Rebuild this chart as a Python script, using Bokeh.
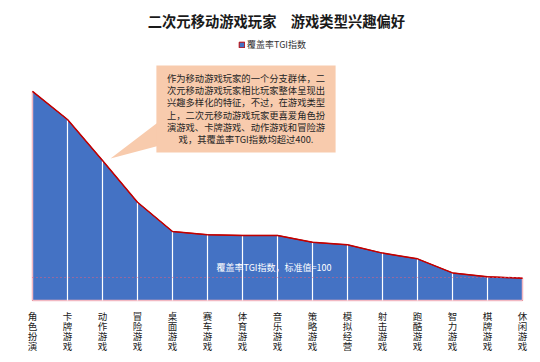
from bokeh.plotting import figure
from bokeh.models import (Range1d, FixedTicker, Label, BoxAnnotation, PolyAnnotation,
                          Legend, LegendItem, ColumnDataSource)
from bokeh.embed import file_html
from bokeh.resources import INLINE

# ---- data ----
categories = ["角色扮演", "卡牌游戏", "动作游戏", "冒险游戏", "桌面游戏", "赛车游戏", "体育游戏",
              "音乐游戏", "策略游戏", "模拟经营", "射击游戏", "跑酷游戏", "智力游戏", "棋牌游戏", "休闲游戏"]
tgi = [909, 787, 609, 427, 300, 286, 283, 283, 253, 242, 206, 181, 120, 103, 97]
baseline = 100
series_name = "覆盖率TGI指数"
title_text = "二次元移动游戏玩家\u3000游戏类型兴趣偏好"
note_text = ("作为移动游戏玩家的一个分支群体，二\n"
             "次元移动游戏玩家相比玩家整体呈现出\n"
             "兴趣多样化的特征，不过，在游戏类型\n"
             "上，二次元移动游戏玩家更喜爱角色扮\n"
             "演游戏、卡牌游戏、动作游戏和冒险游\n"
             "戏，其覆盖率TGI指数均超过400.")
baseline_text = "覆盖率TGI指数，标准值=100"

FONT = "Noto Sans CJK SC"
n = len(categories)
xs = list(range(n))

p = figure(width=540, height=362, output_backend="svg", toolbar_location=None,
           x_range=Range1d(-0.914, 14.514), y_range=Range1d(-269.6, 1304.3),
           min_border_left=0, min_border_right=0, min_border_top=0, min_border_bottom=0)
p.outline_line_color = None
p.xgrid.visible = False
p.ygrid.visible = False
p.yaxis.visible = False

ax = p.xaxis[0]
ax.fixed_location = 0
ax.ticker = FixedTicker(ticks=xs)
ax.major_label_overrides = {i: "\n".join(list(c)) for i, c in enumerate(categories)}
ax.axis_line_color = None
ax.major_tick_line_color = None
ax.minor_tick_line_color = None
ax.major_tick_out = 0
ax.major_tick_in = 0
ax.major_label_text_font = FONT
ax.major_label_text_font_size = "9.5px"
ax.major_label_text_line_height = 0.7
ax.major_label_text_color = "#1a1a1a"
ax.major_label_standoff = 9

# area
area_src = ColumnDataSource(dict(x=[0] + xs + [n - 1], y=[0] + tgi + [0]))
patch = p.patch("x", "y", source=area_src, fill_color="#4472C4", line_color="#C00000", line_width=1)

# pink sides and bottom
p.segment(x0=[0, n - 1, 0], y0=[0, 0, 0], x1=[0, n - 1, n - 1], y1=[tgi[0], tgi[-1], 0],
          line_color="#F2B8C2", line_width=1.5)
# white separators
p.segment(x0=xs[1:-1], y0=[0] * (n - 2), x1=xs[1:-1], y1=tgi[1:-1], line_color="white", line_width=1.2)
# top line
p.line(xs, tgi, line_color="#C00000", line_width=1.5)

# baseline (standard value 100)
p.segment(x0=[0], y0=[baseline], x1=[n - 1], y1=[baseline], line_color="#E8607A",
          line_dash="1 3", line_width=1.2)
p.add_layout(Label(x=6.9, y=143, text=baseline_text, text_color="white", text_font=FONT,
                   text_font_size="9px", text_align="center", text_baseline="middle"))

# callout
p.add_layout(PolyAnnotation(xs=[2.23, 3.58, 3.58], ys=[617, 774, 672], xs_units="data", ys_units="data",
                            fill_color="#F8CBAD", fill_alpha=1, line_color=None))
p.add_layout(BoxAnnotation(left=3.54, right=8.66, bottom=643, top=1022,
                           fill_color="#F8CBAD", fill_alpha=1, line_color=None))
p.add_layout(Label(x=6.1, y=835, text=note_text, text_color="#262626", text_font=FONT,
                   text_font_size="9.3px", text_align="center", text_baseline="middle",
                   text_line_height=0.88))

# title
p.add_layout(Label(x=6.97, y=1217, text=title_text, text_color="#1a1a1a", text_font=FONT,
                   text_font_size="14.3px", text_font_style="bold", text_align="center",
                   text_baseline="middle"))

# legend
leg = Legend(items=[LegendItem(label=series_name, renderers=[patch])], location=(238, 311),
             glyph_width=7, glyph_height=7, label_text_font=FONT, label_text_font_size="9px",
             label_text_color="#333333", label_standoff=2, padding=0, margin=0, spacing=0,
             label_height=9, border_line_color=None, background_fill_alpha=0)
p.add_layout(leg)

open("out.html", "w").write(file_html(p, INLINE))
